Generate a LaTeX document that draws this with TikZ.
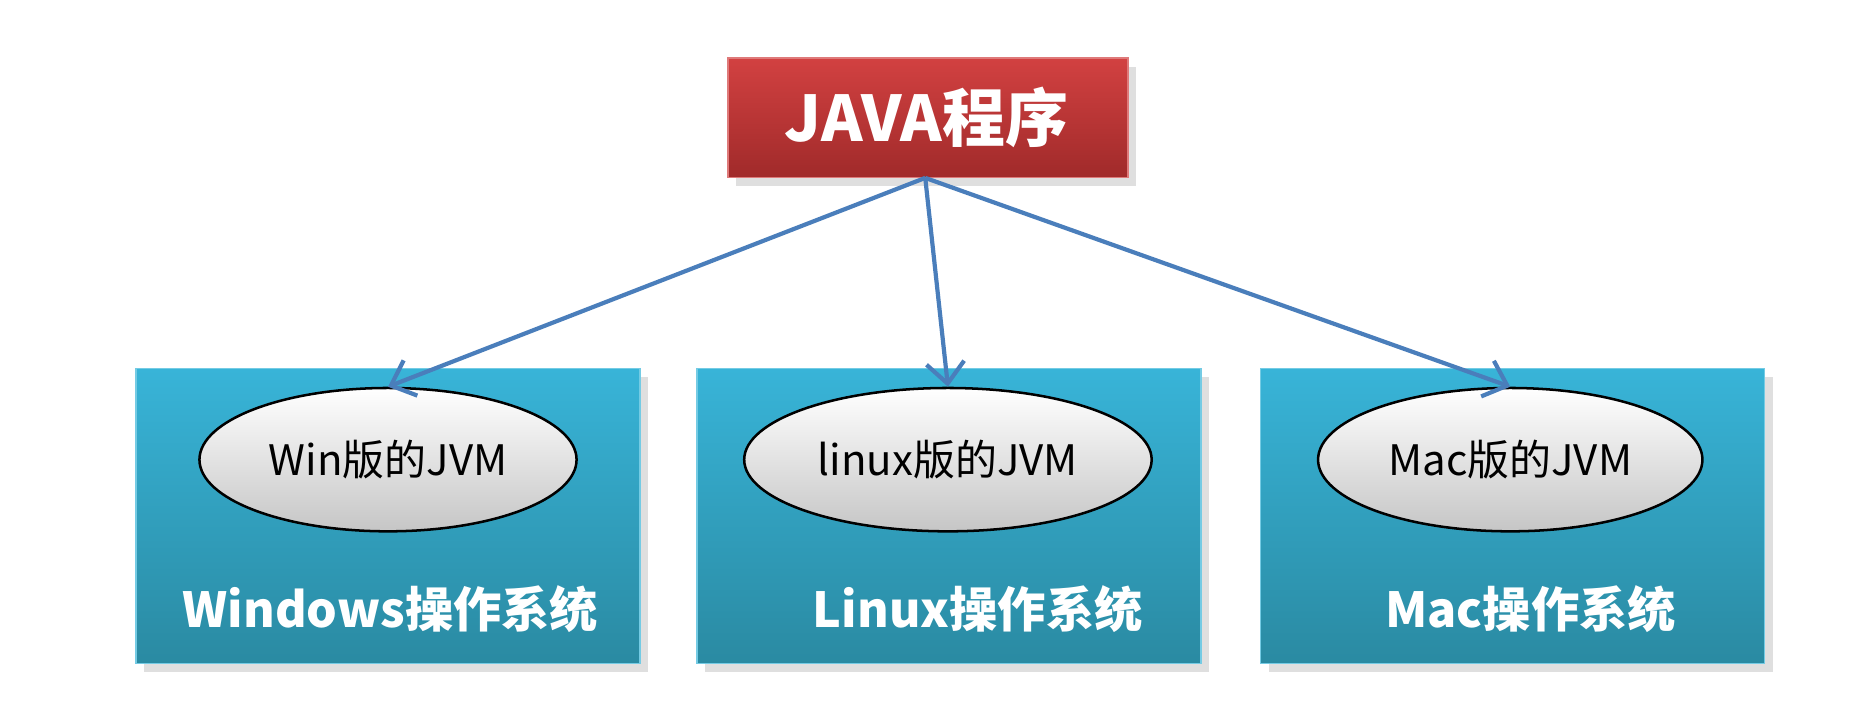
\documentclass[tikz,border=0pt]{standalone}
\usepackage{fontspec}
\setmainfont{Noto Sans CJK SC}
\usetikzlibrary{shapes.geometric,arrows.meta,shadows}
\definecolor{rtop}{HTML}{D24141}
\definecolor{rbot}{HTML}{A02A2A}
\definecolor{btop}{HTML}{38B4D8}
\definecolor{bbot}{HTML}{2A8AA2}
\definecolor{arr}{HTML}{4A7EBB}
\tikzset{
 os/.style={draw=btop!70!white,top color=btop,bottom color=bbot,minimum width=4.22cm,minimum height=2.47cm,anchor=north west,drop shadow={opacity=0.25,shadow xshift=2pt,shadow yshift=-2pt},inner sep=0},
 jvm/.style={ellipse,draw=black,line width=0.6pt,top color=white,bottom color=gray!45,minimum width=2.98cm,minimum height=1.2cm,font=\fontsize{10}{12}\selectfont},
 lbl/.style={text=white,font=\bfseries\fontsize{11.5}{13}\selectfont},
 con/.style={draw=arr,line width=1pt,-{Straight Barb[length=5pt,width=9pt]}}
}
\begin{document}
\begin{tikzpicture}[x=0.01cm,y=-0.01cm]
\useasboundingbox (0,0) rectangle (1568,602);
\node[draw=rtop!70!white,top color=rtop,bottom color=rbot,minimum width=3.35cm,minimum height=1cm,anchor=north west,drop shadow={opacity=0.25,shadow xshift=2pt,shadow yshift=-2pt},inner sep=0] (java) at (609,48) {};
\node[text=white,font=\bfseries\fontsize{15}{17}\selectfont] (jt) at (776,98) {JAVA程序};
\node[os] (w) at (113,308) {};
\node[os] (l) at (583,308) {};
\node[os] (m) at (1055,308) {};
\node[jvm] (wj) at (325,385) {Win版的JVM};
\node[jvm] (lj) at (794,385) {linux版的JVM};
\node[jvm] (mj) at (1265,385) {Mac版的JVM};
\node[lbl] (wl) at (327,510) {Windows操作系统};
\node[lbl] (ll) at (819,510) {Linux操作系统};
\node[lbl] (ml) at (1282,510) {Mac操作系统};
\coordinate (s) at (775,149);
\draw[con] (s) -- (wj.north);
\draw[con] (s) -- (lj.north);
\draw[con] (s) -- (mj.north);
\end{tikzpicture}
\end{document}
